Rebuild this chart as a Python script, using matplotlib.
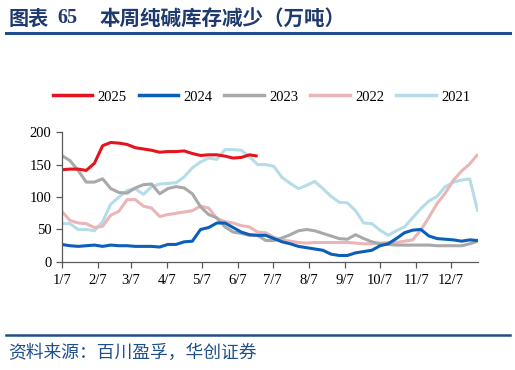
import matplotlib
matplotlib.use("Agg")
import matplotlib.pyplot as plt
from matplotlib.lines import Line2D

plt.rcParams['font.family'] = ['Liberation Serif', 'Noto Sans CJK SC', 'DejaVu Sans']

# weekly points, x = days since Jan 7
s2025 = [142, 143, 143, 141, 152, 179, 184, 183, 181, 176, 174, 172, 169, 170, 170, 171,
         167, 164, 165, 165, 163, 160, 161, 165, 163]
s2024 = [27, 25, 24, 25, 26, 24, 26, 25, 25, 24, 24, 24, 23, 27, 27, 31, 32, 50, 53, 60,
         60, 53, 46, 42, 41, 41, 36, 31, 28, 24, 22, 20, 18, 12, 10, 10, 14, 16, 18, 25,
         28, 36, 45, 49, 50, 40, 36, 35, 34, 32, 34, 33]
s2023 = [164, 156, 141, 123, 123, 128, 113, 107, 106, 114, 119, 120, 105, 113, 116, 114,
         105, 85, 73, 68, 54, 46, 44, 41, 41, 33, 33, 37, 42, 48, 50, 48, 44, 40, 36, 35,
         42, 36, 31, 28, 27, 26, 26, 26, 26, 26, 25, 25, 25, 25, 28, 32]
s2022 = [78, 64, 60, 59, 53, 55, 72, 78, 96, 96, 86, 83, 70, 73, 75, 77, 79, 86, 83, 67,
         62, 60, 56, 54, 46, 45, 38, 34, 32, 30, 29, 30, 30, 30, 30, 30, 29, 28, 28, 29,
         30, 30, 32, 34, 49, 69, 90, 106, 126, 140, 151, 166]
s2021 = [59, 59, 50, 50, 48, 62, 89, 100, 110, 113, 104, 116, 120, 121, 122, 131, 145,
         154, 160, 158, 173, 173, 172, 162, 150, 150, 147, 130, 121, 113, 118, 124, 113,
         101, 92, 91, 79, 60, 59, 49, 41, 48, 54, 68, 82, 94, 101, 116, 123, 126, 128, 77]

tick_days = [0, 31, 59, 90, 120, 151, 181, 212, 243, 273, 304, 334]
tick_labels = ['1/7', '2/7', '3/7', '4/7', '5/7', '6/7', '7/7', '8/7', '9/7', '10/7', '11/7', '12/7']

series = [('2025', s2025, '#E3141D'), ('2024', s2024, '#0B5FB8'), ('2023', s2023, '#A9A9A9'),
          ('2022', s2022, '#E8B6B6'), ('2021', s2021, '#B5DDE8')]

fig = plt.figure(figsize=(5.15, 3.70), dpi=100)
ax = fig.add_axes([0.120, 0.292, 0.808, 0.351])

order = ['2021', '2022', '2023', '2024', '2025']
for name, vals, col in sorted(series, key=lambda s: order.index(s[0])):
    xs = [7 * i for i in range(len(vals))]
    ax.plot(xs, vals, color=col, lw=2.2, solid_capstyle='butt')

ax.set_xlim(0, 357)
ax.set_ylim(0, 200)
ax.set_yticks([0, 50, 100, 150, 200])
ax.set_xticks(tick_days)
ax.set_xticklabels(tick_labels)
for s in ['top', 'right']:
    ax.spines[s].set_visible(False)
for s in ['left', 'bottom']:
    ax.spines[s].set_color('#595959')
    ax.spines[s].set_linewidth(0.9)
ax.tick_params(axis='both', colors='#595959', labelcolor='black', labelsize=10.5,
               length=4, width=0.9, direction='out')
ax.tick_params(axis='x', pad=5)

handles = [Line2D([0], [0], color=c, lw=2.5) for _, _, c in series]
fig.legend(handles, [n for n, _, _ in series], loc='center', bbox_to_anchor=(0.508, 0.738),
           ncol=5, frameon=False, fontsize=10.5, handlelength=2.7, columnspacing=0.8,
           handletextpad=0.4, borderpad=0.2)

cjk = ['Noto Sans CJK SC', 'DejaVu Sans']
fig.text(0.016, 0.951, '图表', fontsize=14.5, fontweight='bold', color='#1F3A6E',
         va='center', family=cjk)
fig.text(0.112, 0.951, '65', fontsize=14.5, fontweight='bold', color='#1F3A6E',
         va='center', family=['Liberation Serif'])
fig.text(0.194, 0.951, '本周纯碱库存减少（万吨）', fontsize=14.8, fontweight='bold',
         color='#1F3A6E', va='center', family=cjk)
fig.add_artist(Line2D([0.012, 0.99], [0.911, 0.911], color='#1F4E8C', lw=2.2))
fig.add_artist(Line2D([0.012, 0.99], [0.095, 0.095], color='#1F4E8C', lw=1.8))
fig.text(0.016, 0.047, '资料来源：百川盈孚，华创证券', fontsize=12.8, color='#1F4E8C',
         va='center', style='italic', family=cjk)

fig.savefig('out.png', dpi=100)
